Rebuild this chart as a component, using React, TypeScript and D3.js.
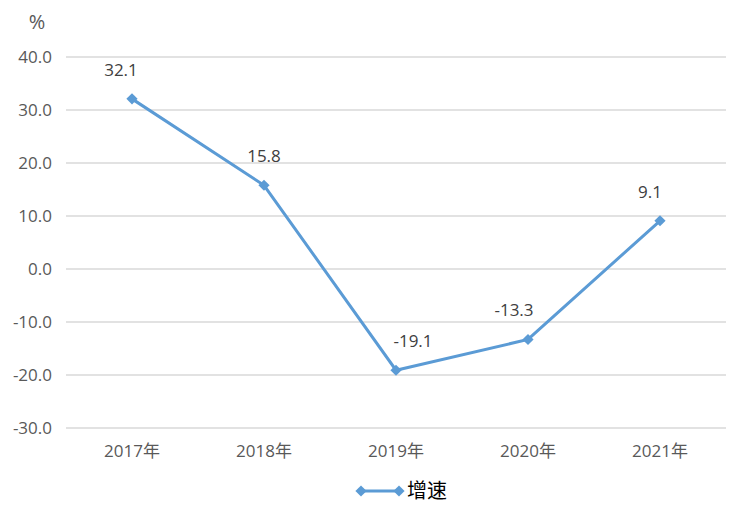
import * as d3 from 'd3';
import * as React from 'react';

const width = 751;
const height = 515;
const margin = { top: 57, right: 25, bottom: 87, left: 66 };

const years = ['2017年', '2018年', '2019年', '2020年', '2021年'];
const growth = [32.1, 15.8, -19.1, -13.3, 9.1];
const yTicks = [40, 30, 20, 10, 0, -10, -20, -30];
const seriesName = '增速';

// label nudges (px) so the text sits where the original had it
const labelDx = [-11, 0, 17, -14, -10];

const blue = '#5B9BD5';
const font = '"Open Sans", "Noto Sans CJK SC", sans-serif';

export default () => {
  const x = d3
    .scaleBand()
    .domain(years)
    .range([margin.left, width - margin.right]);
  const y = d3
    .scaleLinear()
    .domain([-30, 40])
    .range([height - margin.bottom, margin.top]);

  const cx = (d: string) => (x(d) || 0) + x.bandwidth() / 2;

  const line = d3
    .line<number>()
    .x((_, i) => cx(years[i]))
    .y(d => y(d));

  const diamond = d3.symbol(d3.symbolDiamond2, 80)() || '';

  return (
    <svg
      width={width}
      height={height}
      style={{ position: 'absolute', left: 0, top: 0, background: '#fff' }}
      fontFamily={font}
    >
      <text x={37} y={29} fontSize={20} fill="#595959" textAnchor="middle">
        %
      </text>
      {yTicks.map(t => (
        <g key={t}>
          <line
            x1={margin.left}
            x2={width - margin.right}
            y1={y(t)}
            y2={y(t)}
            stroke="#d9d9d9"
            strokeWidth={1.5}
          />
          <text
            x={52}
            y={y(t)}
            dy="0.35em"
            textAnchor="end"
            fontSize={17}
            fill="#595959"
          >
            {t.toFixed(1)}
          </text>
        </g>
      ))}
      {years.map(d => (
        <text
          key={d}
          x={cx(d)}
          y={height - margin.bottom + 29}
          textAnchor="middle"
          fontSize={17}
          fill="#595959"
        >
          {d}
        </text>
      ))}
      <path d={line(growth) || ''} fill="none" stroke={blue} strokeWidth={3} />
      {growth.map((v, i) => (
        <g key={i}>
          <path
            d={diamond}
            transform={`translate(${cx(years[i])},${y(v)})`}
            fill={blue}
          />
          <text
            x={cx(years[i]) + labelDx[i]}
            y={y(v) - 23}
            textAnchor="middle"
            fontSize={17}
            fill="#404040"
          >
            {v.toFixed(1)}
          </text>
        </g>
      ))}
      <g transform="translate(357,491)">
        <line x1={2} x2={42} y1={0} y2={0} stroke={blue} strokeWidth={3} />
        <path d={diamond} transform="translate(4,0)" fill={blue} />
        <path d={diamond} transform="translate(42,0)" fill={blue} />
        <text x={50} y={0} dy="0.35em" fontSize={20} fill="#000">
          {seriesName}
        </text>
      </g>
    </svg>
  );
};
